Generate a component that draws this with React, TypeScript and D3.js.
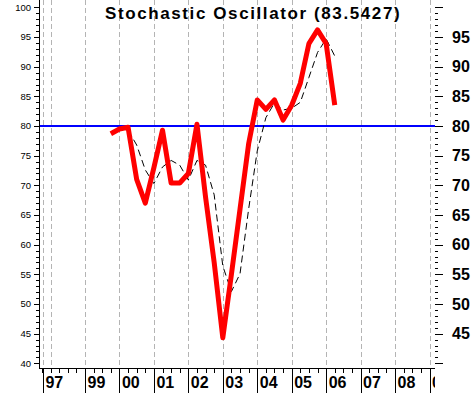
import React from "react";
import * as d3 from "d3";

// quarterly %K and %D readings
const kQuarters = [
  "1999Q4", "2000Q1", "2000Q2", "2000Q3", "2000Q4", "2001Q1", "2001Q2",
  "2001Q3", "2001Q4", "2002Q1", "2002Q2", "2002Q3", "2002Q4", "2003Q1",
  "2003Q2", "2003Q3", "2003Q4", "2004Q1", "2004Q2", "2004Q3", "2004Q4",
  "2005Q1", "2005Q2", "2005Q3", "2005Q4", "2006Q1", "2006Q2",
];
const kValues = [
  78.7, 79.5, 79.8, 71.0, 67.0, 73.0, 79.3, 70.4, 70.4, 72.0, 80.3, 68.0,
  57.0, 44.3, 55.0, 66.0, 77.0, 84.4, 82.8, 84.4, 81.0, 83.5, 87.2, 93.9,
  96.2, 93.9, 83.54,
];
const dQuarters = kQuarters.slice(2);
const dValues = [
  79.3, 76.8, 72.6, 70.3, 73.1, 74.2, 73.4, 70.9, 74.2, 73.4, 68.4, 56.4,
  52.1, 55.1, 66.0, 75.8, 81.4, 83.9, 82.7, 83.0, 84.0, 88.2, 92.4, 94.7,
  91.8,
];

const yearLabels = ["97", "99", "00", "01", "02", "03", "04", "05", "06", "07", "08", "09"];
const yearMarks = [1997.78, 1999, 2000, 2001, 2002, 2003, 2004, 2005, 2006, 2007, 2008, 2009];
const gridYears = [1997.78, 1998, 1999, 2000, 2001, 2002, 2003, 2004, 2005, 2006, 2007, 2008, 2009];
const leftLabels = [40, 45, 50, 55, 60, 65, 70, 75, 80, 85, 90, 95, 100];
const rightLabels = [45, 50, 55, 60, 65, 70, 75, 80, 85, 90, 95];
const signalLevel = 80;
const title = "Stochastic Oscillator (83.5427)";

const W = 473;
const H = 393;
const left = 39;
const right = 435;
const bottom = 368;

const toYear = (q: string) => +q.slice(0, 4) + (+q.slice(5) - 1) / 4;

export default function App() {
  const x = d3.scaleLinear().domain([1999, 2009]).range([85, 429.5]);
  const y = d3.scaleLinear().domain([40, 100]).range([363.3, 7.4]);

  const line = d3
    .line<[number, number]>()
    .x((d) => x(d[0]))
    .y((d) => y(d[1]));

  const kPts: [number, number][] = kQuarters.map((q, i) => [toYear(q), kValues[i]]);
  const dPts: [number, number][] = dQuarters.map((q, i) => [toYear(q), dValues[i]]);

  const minorTicks = d3.range(40, 101, 1);
  const quarterTicks = d3.range(1997.75, 2009.3, 0.25).filter((t) => x(t) > left && x(t) <= right);

  return (
    <svg
      width={W}
      height={H}
      style={{ position: "absolute", left: 0, top: 0, background: "#fff" }}
    >
      <defs>
        <clipPath id="bclip">
          <rect x={0} y={0} width={435} height={H} />
        </clipPath>
      </defs>
      <rect width={W} height={H} fill="#fff" />

      {/* vertical dashed grid */}
      {gridYears.map((t, i) => (
        <line
          key={"g" + i}
          x1={Math.round(x(t)) + 0.5}
          x2={Math.round(x(t)) + 0.5}
          y1={0}
          y2={bottom}
          stroke="#b4b4b4"
          strokeDasharray="5,3"
        />
      ))}

      {/* left axis */}
      <line x1={left + 0.5} x2={left + 0.5} y1={0} y2={bottom} stroke="#000" />
      {minorTicks.map((v) => (
        <line
          key={"lt" + v}
          x1={v % 5 === 0 ? left - 5 : left - 3}
          x2={left}
          y1={Math.round(y(v)) + 0.5}
          y2={Math.round(y(v)) + 0.5}
          stroke="#000"
        />
      ))}
      {leftLabels.map((v) => (
        <text
          key={"ll" + v}
          x={31}
          y={y(v)}
          dy="0.35em"
          textAnchor="end"
          fontFamily="Liberation Sans, Arial, sans-serif"
          fontSize={9.5}
          fill="#000"
        >
          {v}
        </text>
      ))}

      {/* right axis */}
      {minorTicks.map((v) => (
        <line
          key={"rt" + v}
          x1={435}
          x2={v % 5 === 0 ? 443 : 438}
          y1={Math.round(y(v)) + 0.5}
          y2={Math.round(y(v)) + 0.5}
          stroke="#000"
        />
      ))}
      {rightLabels.map((v) => (
        <text
          key={"rl" + v}
          x={452}
          y={y(v)}
          dy="0.36em"
          fontFamily="Liberation Sans, Arial, sans-serif"
          fontWeight="bold"
          fontSize={16}
          fill="#000"
        >
          {v}
        </text>
      ))}

      {/* bottom axis */}
      <line x1={left} x2={right} y1={bottom + 0.5} y2={bottom + 0.5} stroke="#000" />
      {quarterTicks.map((t, i) => (
        <line
          key={"qt" + i}
          x1={Math.round(x(t)) + 0.5}
          x2={Math.round(x(t)) + 0.5}
          y1={bottom}
          y2={bottom + 5}
          stroke="#000"
        />
      ))}
      <g clipPath="url(#bclip)">
        {yearMarks.map((t, i) => (
          <g key={"yl" + i}>
            <line
              x1={Math.round(x(t)) + 0.5}
              x2={Math.round(x(t)) + 0.5}
              y1={bottom}
              y2={H}
              stroke="#000"
            />
            <text
              x={x(t) + 2.5}
              y={388}
              fontFamily="Liberation Sans, Arial, sans-serif"
              fontWeight="bold"
              fontSize={16}
              fill="#000"
            >
              {yearLabels[i]}
            </text>
          </g>
        ))}
      </g>

      {/* 80 signal line */}
      <line
        x1={left + 1}
        x2={right}
        y1={y(signalLevel)}
        y2={y(signalLevel)}
        stroke="#0000ff"
        strokeWidth={2}
      />

      {/* %D dashed */}
      <path d={line(dPts) ?? ""} fill="none" stroke="#000" strokeWidth={1} strokeDasharray="7,4" />
      {/* %K */}
      <path
        d={line(kPts) ?? ""}
        fill="none"
        stroke="#ff0000"
        strokeWidth={5}
        strokeLinejoin="round"
      />

      <text
        x={105}
        y={19}
        fontFamily="Liberation Sans, Arial, sans-serif"
        fontWeight="bold"
        fontSize={17}
        letterSpacing={1.6}
        fill="#000"
      >
        {title}
      </text>
    </svg>
  );
}
